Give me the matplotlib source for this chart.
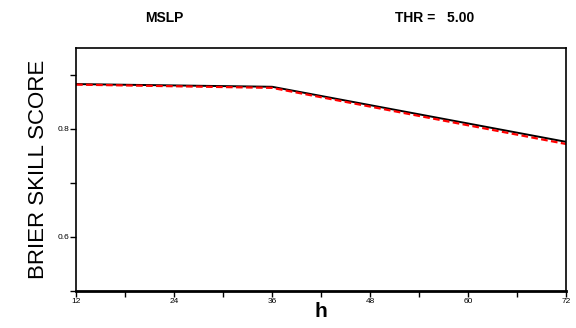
import numpy as np
import matplotlib.pyplot as plt
from matplotlib.ticker import MultipleLocator

plt.rcParams['font.family'] = ['Liberation Sans', 'DejaVu Sans']

# forecast range (h) and Brier skill score
hours = [12, 36, 72]
bss_black = [0.883, 0.878, 0.776]
bss_red = [0.882, 0.876, 0.772]

fig = plt.figure(figsize=(5.76, 3.28), dpi=100)
ax = fig.add_axes([0.132, 0.113, 0.851, 0.741])

ax.plot(hours, bss_black, color='black', lw=1.4)
ax.plot(hours, bss_red, color='red', lw=1.6, ls=(0, (3, 1.5)))

ax.set_xlim(12, 72)
ax.set_ylim(0.5, 0.95)
ax.set_xticks([12, 24, 36, 48, 60, 72])
ax.xaxis.set_minor_locator(MultipleLocator(6))
ax.set_yticks([0.6, 0.8])
ax.yaxis.set_minor_locator(MultipleLocator(0.1))
ax.tick_params(which='both', direction='out', length=4, width=1, labelsize=6, pad=1)

for s in ax.spines.values():
    s.set_linewidth(1.2)
ax.spines['bottom'].set_linewidth(2)

ax.set_ylabel('BRIER SKILL SCORE', fontsize=16, labelpad=6)
ax.set_xlabel('h', fontsize=15, fontweight='bold', labelpad=-2)

fig.text(0.286, 0.945, 'MSLP', fontsize=10, fontweight='bold', ha='center', va='center')
fig.text(0.755, 0.945, 'THR =   5.00', fontsize=10, fontweight='bold', ha='center', va='center')

fig.savefig('out.png', dpi=100)
